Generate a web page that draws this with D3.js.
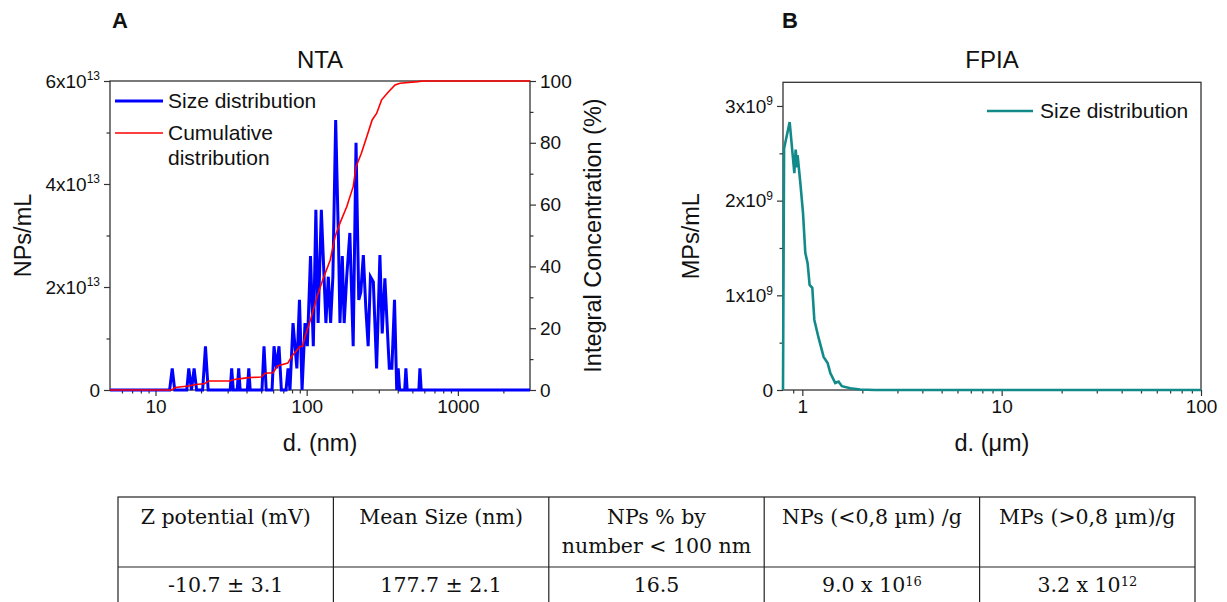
<!DOCTYPE html>
<html>
<head>
<meta charset="utf-8">
<script src="https://cdn.jsdelivr.net/npm/d3@7"></script>
<style>
  body { margin: 0; background: #fff; }
  text { font-family: "Liberation Sans", Arial, sans-serif; fill: #111; }
</style>
</head>
<body>
<svg id="chart" width="1227" height="602"></svg>
<script>
// NTA size distribution: diameter (nm) and concentration (x1e13 NPs/mL)
const ntaSize = [5, 12.4, 12.9, 13.4, 16.1, 16.6, 17.3, 18.0, 18.7, 20.5, 21.4, 22.3,
  31.2, 31.9, 32.7, 34.7, 35.5, 36.3, 40.5, 41.4, 42.3, 50.6, 52.2, 54, 59, 60.8, 63.2,
  65.6, 68, 73, 75.3, 77.5, 81.2, 86.1, 89.6, 93.2, 97.5, 101, 106, 110.6, 115, 119,
  125, 134, 139, 144, 149, 155.5, 162, 166, 172, 177, 184, 193, 203, 212, 221, 228,
  237, 246, 255, 264, 276, 290, 305, 316, 329, 346, 352, 366, 381, 394, 403, 412,
  445, 453, 462, 552, 561, 572, 3000];
const ntaConc = [0, 0, 0.42, 0, 0, 0.42, 0, 0.42, 0, 0, 0.85, 0,
  0, 0.42, 0, 0, 0.42, 0, 0, 0.42, 0, 0, 0.85, 0, 0, 0.85, 0.42,
  0.85, 0, 0, 0.42, 0, 1.3, 0.42, 1.75, 0, 1.3, 0.85, 2.6, 0.85, 3.5, 1.3,
  3.5, 1.3, 2.2, 1.3, 2.2, 5.24, 3.0, 1.3, 2.6, 1.3, 2.2, 3.05, 0.85, 4.8, 1.75, 1.9,
  2.62, 1.6, 0.85, 2.2, 2.1, 0.42, 2.62, 1.1, 2.17, 0.85, 0.42, 0.42, 1.75, 0, 0.42, 0,
  0, 0.42, 0, 0, 0.42, 0, 0];

// NTA cumulative distribution (%)
const cumSize = [5, 12.8, 13.5, 16.5, 18.5, 21, 22.5, 31, 32.5, 35.5, 41.5, 50, 53, 60,
  64, 75, 80, 85, 90, 94, 97.5, 106, 117, 130, 143, 154, 166, 184, 203, 212, 230, 250,
  271, 290, 313, 348, 384, 414, 543, 588, 3000];
const cumPct = [0, 0, 0.8, 1.3, 1.8, 2.0, 2.9, 2.9, 3.3, 3.6, 4.0, 4.2, 5.4, 5.6,
  7.8, 8.7, 11, 12.5, 14, 14.2, 17.3, 22.7, 30.2, 36.7, 42, 49.6, 54, 59.3, 65.8, 72.3, 76.6, 82,
  87.4, 89.5, 93.9, 96.5, 98.7, 99.3, 99.8, 100, 100];

// FPIA size distribution: diameter (um) and concentration (x1e9 MPs/mL)
const fpiaSize = [0.80, 0.81, 0.864, 0.912, 0.926, 0.941, 0.947, 0.977, 1.008, 1.035, 1.063,
  1.088, 1.122, 1.149, 1.207, 1.279, 1.339, 1.382, 1.463, 1.52, 1.58, 1.74, 1.95, 2.3, 100];
const fpiaConc = [0, 2.55, 2.83, 2.29, 2.54, 2.35, 2.48, 2.19, 1.87, 1.45, 1.34,
  1.11, 1.08, 0.74, 0.55, 0.35, 0.285, 0.18, 0.074, 0.088, 0.04, 0.018, 0.005, 0, 0];

// tick values
const ntaYTicks = [0, 2, 4, 6];
const ntaYMinor = [1, 3, 5];
const pctTicks = [0, 20, 40, 60, 80, 100];
const pctMinor = [10, 30, 50, 70, 90];
const ntaXTicks = [10, 100, 1000];
const ntaXMinor = [6, 7, 8, 9, 20, 30, 40, 50, 60, 70, 80, 90, 200, 300, 400, 500, 600, 700, 800, 900, 2000];
const fpiaYTicks = [0, 1, 2, 3];
const fpiaYMinor = [0.5, 1.5, 2.5];
const fpiaXTicks = [1, 10, 100];
const fpiaXMinor = [0.9, 2, 3, 4, 5, 6, 7, 8, 9, 20, 30, 40, 50, 60, 70, 80, 90];

// table
const tableHead = [["Z potential (mV)"], ["Mean Size (nm)"], ["NPs % by", "number < 100 nm"],
  ["NPs (<0,8 µm) /g"], ["MPs (>0,8 µm)/g"]];
const tableVals = [["-10.7 ± 3.1", ""], ["177.7 ± 2.1", ""], ["16.5", ""], ["9.0 x 10", "16"], ["3.2 x 10", "12"]];

const svg = d3.select("#chart");
const axisColor = "#333";
const tickFont = "19px";

// panel geometry
const A = {left: 110, right: 530, top: 81, bottom: 390};
const B = {left: 783, right: 1201, top: 82.3, bottom: 390};

const xA = d3.scaleLog().domain([5, 3000]).range([A.left, A.right]);
const yA = d3.scaleLinear().domain([0, 6]).range([A.bottom, A.top]);
const yA2 = d3.scaleLinear().domain([0, 100]).range([A.bottom, A.top]);
const xB = d3.scaleLog().domain([0.8, 100]).range([B.left, B.right]);
const yB = d3.scaleLinear().domain([0, 3.25]).range([B.bottom, B.top]);

// draws an axis with major (labelled) and minor ticks
function drawAxis(axisFn, scale, major, minor, fmt, transform) {
  let gMinor = svg.append("g").attr("transform", transform)
    .call(axisFn(scale).tickValues(minor).tickSize(3.5).tickFormat(""));
  let gMajor = svg.append("g").attr("transform", transform)
    .call(axisFn(scale).tickValues(major).tickSize(6).tickPadding(4).tickFormat(fmt));
  [gMinor, gMajor].forEach(function (g) {
    g.select(".domain").remove();
    g.selectAll("line").attr("stroke", axisColor).attr("stroke-width", 1.2);
    g.selectAll("text").style("font-size", tickFont).style("font-family", "Liberation Sans, Arial, sans-serif").attr("fill", "#111");
  });
  return gMajor;
}

// adds a "x10^n" superscript to tick labels
function powerLabels(g, exp) {
  g.selectAll("text").each(function (d) {
    if (d === 0) return;
    let t = d3.select(this);
    t.text(d + "x10");
    t.append("tspan").attr("dy", "-0.6em").style("font-size", "12px").text(exp);
  });
}

// ---- Panel A ----
let gy = drawAxis(d3.axisLeft, yA, ntaYTicks, ntaYMinor, d => d, "translate(" + A.left + ",0)");
powerLabels(gy, "13");
drawAxis(d3.axisRight, yA2, pctTicks, pctMinor, d => d, "translate(" + A.right + ",0)");
drawAxis(d3.axisBottom, xA, ntaXTicks, ntaXMinor, d => d, "translate(0," + A.bottom + ")");
svg.append("rect").attr("x", A.left).attr("y", A.top)
  .attr("width", A.right - A.left).attr("height", A.bottom - A.top)
  .attr("fill", "none").attr("stroke", axisColor).attr("stroke-width", 1.3);

let lineA = d3.line().x(d => xA(d[0])).y(d => yA(d[1]));
let lineCum = d3.line().x(d => xA(d[0])).y(d => yA2(d[1]));
svg.append("path").datum(ntaSize.map((s, i) => [s, ntaConc[i]]))
  .attr("d", lineA).attr("fill", "none").attr("stroke", "#0000ff")
  .attr("stroke-width", 3).attr("stroke-linejoin", "miter");
svg.append("path").datum(cumSize.map((s, i) => [s, cumPct[i]]))
  .attr("d", lineCum).attr("fill", "none").attr("stroke", "#ff0000").attr("stroke-width", 1.6);

// legend A
svg.append("line").attr("x1", 115).attr("x2", 163).attr("y1", 101).attr("y2", 101)
  .attr("stroke", "#0000ff").attr("stroke-width", 3);
svg.append("text").attr("x", 168).attr("y", 108).style("font-size", "21px").text("Size distribution");
svg.append("line").attr("x1", 115).attr("x2", 163).attr("y1", 133).attr("y2", 133)
  .attr("stroke", "#ff0000").attr("stroke-width", 1.6);
svg.append("text").attr("x", 168).attr("y", 140).style("font-size", "21px").text("Cumulative");
svg.append("text").attr("x", 168).attr("y", 165).style("font-size", "21px").text("distribution");

// labels A
svg.append("text").attr("x", 112).attr("y", 28).style("font-size", "22px").style("font-weight", "bold").text("A");
svg.append("text").attr("x", (A.left + A.right) / 2).attr("y", 68).attr("text-anchor", "middle")
  .style("font-size", "24px").text("NTA");
svg.append("text").attr("x", (A.left + A.right) / 2).attr("y", 451).attr("text-anchor", "middle")
  .style("font-size", "23.5px").text("d. (nm)");
svg.append("text").attr("transform", "translate(31," + ((A.top + A.bottom) / 2) + ") rotate(-90)")
  .attr("text-anchor", "middle").style("font-size", "23.5px").text("NPs/mL");
svg.append("text").attr("transform", "translate(601," + ((A.top + A.bottom) / 2) + ") rotate(-90)")
  .attr("text-anchor", "middle").style("font-size", "23.5px").text("Integral Concentration (%)");

// ---- Panel B ----
let gyB = drawAxis(d3.axisLeft, yB, fpiaYTicks, fpiaYMinor, d => d, "translate(" + B.left + ",0)");
powerLabels(gyB, "9");
drawAxis(d3.axisBottom, xB, fpiaXTicks, fpiaXMinor, d => d, "translate(0," + B.bottom + ")");
svg.append("rect").attr("x", B.left).attr("y", B.top)
  .attr("width", B.right - B.left).attr("height", B.bottom - B.top)
  .attr("fill", "none").attr("stroke", axisColor).attr("stroke-width", 1.3);

let lineB = d3.line().x(d => xB(d[0])).y(d => yB(d[1]));
svg.append("path").datum(fpiaSize.map((s, i) => [s, fpiaConc[i]]))
  .attr("d", lineB).attr("fill", "none").attr("stroke", "#138a8a").attr("stroke-width", 2.6);

svg.append("line").attr("x1", 987).attr("x2", 1033).attr("y1", 111).attr("y2", 111)
  .attr("stroke", "#138a8a").attr("stroke-width", 2.6);
svg.append("text").attr("x", 1040).attr("y", 118).style("font-size", "21px").text("Size distribution");

svg.append("text").attr("x", 782).attr("y", 28).style("font-size", "22px").style("font-weight", "bold").text("B");
svg.append("text").attr("x", (B.left + B.right) / 2).attr("y", 68).attr("text-anchor", "middle")
  .style("font-size", "24px").text("FPIA");
svg.append("text").attr("x", (B.left + B.right) / 2).attr("y", 451).attr("text-anchor", "middle")
  .style("font-size", "23.5px").text("d. (μm)");
svg.append("text").attr("transform", "translate(699," + ((B.top + B.bottom) / 2) + ") rotate(-90)")
  .attr("text-anchor", "middle").style("font-size", "23.5px").text("MPs/mL");

// ---- Table ----
const colX = d3.scaleLinear().domain([0, tableHead.length]).range([118, 1195]);
const rowTop = 497, rowMid = 567, rowBot = 640;
let tbl = svg.append("g").style("font-family", "DejaVu Serif, serif");
tbl.append("rect").attr("x", colX(0)).attr("y", rowTop).attr("width", colX(5) - colX(0))
  .attr("height", rowBot - rowTop).attr("fill", "none").attr("stroke", "#222").attr("stroke-width", 1.2);
tbl.append("line").attr("x1", colX(0)).attr("x2", colX(5)).attr("y1", rowMid).attr("y2", rowMid)
  .attr("stroke", "#222").attr("stroke-width", 1.2);
d3.range(1, tableHead.length).forEach(function (i) {
  tbl.append("line").attr("x1", colX(i)).attr("x2", colX(i)).attr("y1", rowTop).attr("y2", rowBot)
    .attr("stroke", "#222").attr("stroke-width", 1.2);
});
tableHead.forEach(function (lines, i) {
  lines.forEach(function (s, j) {
    tbl.append("text").attr("x", (colX(i) + colX(i + 1)) / 2).attr("y", 524 + j * 29)
      .attr("text-anchor", "middle").style("font-family", "DejaVu Serif, serif").style("font-size", "20.5px").text(s);
  });
});
tableVals.forEach(function (v, i) {
  let t = tbl.append("text").attr("x", (colX(i) + colX(i + 1)) / 2).attr("y", 592)
    .attr("text-anchor", "middle").style("font-family", "DejaVu Serif, serif").style("font-size", "20.5px").text(v[0]);
  if (v[1]) t.append("tspan").attr("dy", "-0.45em").style("font-size", "13px").text(v[1]);
});
</script>
</body>
</html>
